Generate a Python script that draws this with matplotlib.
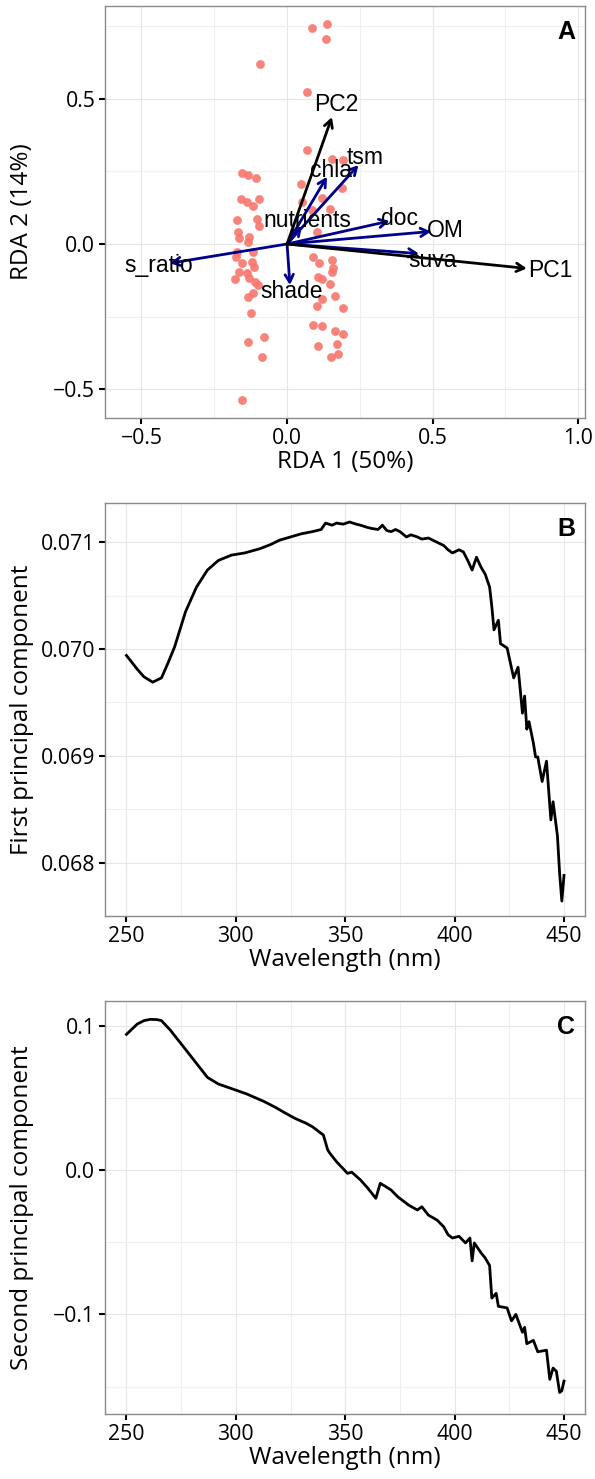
import matplotlib
matplotlib.use('Agg')
import matplotlib.pyplot as plt
from matplotlib.ticker import MultipleLocator

# panel A: site scores
site_x = [-0.154, -0.134, -0.106, -0.158, -0.137, -0.117, -0.096, -0.172, -0.103, -0.096,
          -0.168, -0.165, -0.130, -0.134, -0.117, -0.172, -0.175, -0.154, -0.120, -0.113,
          -0.165, -0.137, -0.178, -0.130, -0.110, -0.100, -0.117, -0.134, -0.124, -0.079,
          -0.134, -0.086, -0.154, -0.093,
          0.086, 0.137, 0.134, 0.069, 0.069, 0.154, 0.192, 0.189, 0.048, 0.051,
          0.120, 0.086, 0.148, 0.103, 0.089, 0.110, 0.154, 0.158, 0.154, 0.106,
          0.120, 0.148, 0.165, 0.120, 0.103, 0.192, 0.089, 0.120, 0.165, 0.192,
          0.106, 0.172, 0.175, 0.151]
site_y = [0.244, 0.237, 0.227, 0.155, 0.144, 0.131, 0.155, 0.082, 0.086, 0.062,
          0.041, 0.021, 0.024, 0.007, -0.027, -0.027, -0.045, -0.065, -0.062, -0.079,
          -0.096, -0.100, -0.120, -0.117, -0.131, -0.141, -0.168, -0.182, -0.237, -0.320,
          -0.337, -0.388, -0.536, 0.619,
          0.742, 0.756, 0.704, 0.522, 0.323, 0.292, 0.289, 0.192, 0.206, 0.144,
          0.158, 0.117, 0.120, 0.041, -0.045, -0.065, -0.055, -0.082, -0.096, -0.113,
          -0.120, -0.137, -0.179, -0.189, -0.213, -0.220, -0.278, -0.282, -0.299, -0.309,
          -0.351, -0.344, -0.378, -0.388]

# panel A: environmental vectors
env_names = ['s_ratio', 'shade', 'nutrients', 'chla', 'tsm', 'doc', 'OM', 'suva']
env_x = [-0.402, 0.010, 0.051, 0.137, 0.245, 0.352, 0.494, 0.453]
env_y = [-0.066, -0.141, 0.062, 0.231, 0.271, 0.079, 0.043, -0.033]
pc_names = ['PC1', 'PC2']
pc_x = [0.823, 0.154]
pc_y = [-0.084, 0.436]

# panel B: first principal component
wl_b = [250, 255, 258, 262, 266, 269, 272, 277, 282, 287, 292, 298, 304, 311, 316,
        320, 325, 330, 335, 339, 341, 344, 346, 349, 352, 355, 357, 360, 362, 365,
        367, 369, 371, 373, 375, 378, 380, 383, 385, 388, 391, 393, 395, 397, 399,
        402, 404, 406, 408, 410, 412, 414, 416, 417, 418, 420, 421, 424, 427, 429,
        430, 431, 432, 433, 434, 436, 437, 438, 440, 442, 444, 445, 447, 448, 449, 450]
pc1 = [0.06994, 0.06981, 0.06974, 0.06969, 0.06973, 0.06987, 0.07002, 0.07035, 0.07058, 0.07074,
       0.07083, 0.07088, 0.07090, 0.07094, 0.07098, 0.07102, 0.07105, 0.07108, 0.07110, 0.07112,
       0.07118, 0.07116, 0.07118, 0.07117, 0.07119, 0.07117, 0.07116, 0.07114, 0.07113, 0.07112,
       0.07116, 0.07111, 0.07110, 0.07112, 0.07110, 0.07105, 0.07107, 0.07105, 0.07103, 0.07104,
       0.07101, 0.07099, 0.07097, 0.07093, 0.07090, 0.07093, 0.07091, 0.07083, 0.07074, 0.07086,
       0.07077, 0.07070, 0.07058, 0.07040, 0.07018, 0.07027, 0.07005, 0.07001, 0.06973, 0.06983,
       0.06962, 0.06940, 0.06956, 0.06925, 0.06932, 0.06912, 0.06899, 0.06899, 0.06876, 0.06895,
       0.06840, 0.06857, 0.06825, 0.06790, 0.06764, 0.06788]

# panel C: second principal component
wl_c = [250, 255, 258, 261, 264, 266, 270, 276, 282, 287, 292, 299, 305, 313, 318,
        322, 327, 332, 335, 339, 340, 342, 343, 346, 349, 351, 353, 357, 360, 364,
        366, 368, 371, 374, 379, 383, 385, 388, 392, 395, 397, 399, 402, 404, 405,
        407, 408, 409, 412, 414, 416, 417, 419, 420, 424, 426, 428, 431, 432, 433,
        436, 438, 442, 443.5, 445, 446.5, 448, 449, 450]
pc2 = [0.0940, 0.1012, 0.1035, 0.1044, 0.1042, 0.1035, 0.0970, 0.0855, 0.0739, 0.0642,
       0.0596, 0.0559, 0.0527, 0.0474, 0.0435, 0.0400, 0.0358, 0.0325, 0.0300, 0.0254,
       0.0243, 0.0139, 0.0116, 0.0058, 0.0010, -0.0023, -0.0015, -0.0069, -0.0120, -0.0196,
       -0.0092, -0.0110, -0.0139, -0.0185, -0.0243, -0.0277, -0.0254, -0.0312, -0.0347, -0.0393,
       -0.0448, -0.0471, -0.0459, -0.0490, -0.0505, -0.0471, -0.0629, -0.0505, -0.0572, -0.0610,
       -0.0662, -0.0887, -0.0854, -0.0944, -0.0955, -0.1045, -0.1000, -0.1124, -0.1090, -0.1203,
       -0.1180, -0.1259, -0.1248, -0.1450, -0.1372, -0.1394, -0.1541, -0.1529, -0.1462]

tick_font = 'Open Sans'
label_font = 'Liberation Sans'


def style_axes(ax, letter):
    ax.set_facecolor('white')
    for s in ax.spines.values():
        s.set_color('#8a8a8a')
        s.set_linewidth(1.0)
    ax.grid(which='major', color='#e6e6e6', lw=0.8, zorder=0)
    ax.grid(which='minor', color='#efefef', lw=0.8, zorder=0)
    ax.set_axisbelow(True)
    ax.tick_params(which='major', length=4.5, width=1.5, color='black', labelsize=15.3,
                   labelcolor='black', pad=2.5)
    ax.tick_params(which='minor', length=0)
    for lab in ax.get_xticklabels() + ax.get_yticklabels():
        lab.set_fontfamily(tick_font)
    ax.yaxis.label.set_va('center')
    ax.yaxis.set_label_coords(-0.173, 0.5)
    ax.text(0.979, 0.966, letter, transform=ax.transAxes, ha='right', va='top',
            fontsize=18, fontweight='bold', fontfamily=label_font)


fig = plt.figure(figsize=(5.95, 14.79), dpi=100)
axA = fig.add_axes([0.1765, 0.71738, 0.8067, 0.27857])
axB = fig.add_axes([0.1765, 0.38066, 0.8067, 0.27924])
axC = fig.add_axes([0.1765, 0.04395, 0.8067, 0.27924])

# A
axA.scatter(site_x, site_y, s=40, color='#F8766D', alpha=0.9, lw=0, zorder=2)
arrow_style = '->,head_length=0.55,head_width=0.3'
for name, x, y in zip(env_names, env_x, env_y):
    axA.annotate('', xy=(x, y), xytext=(0, 0),
                 arrowprops=dict(arrowstyle=arrow_style, color='#00008B', lw=2.0,
                                 shrinkA=0, shrinkB=0), zorder=3)
for name, x, y in zip(pc_names, pc_x, pc_y):
    axA.annotate('', xy=(x, y), xytext=(0, 0),
                 arrowprops=dict(arrowstyle=arrow_style, color='black', lw=2.0,
                                 shrinkA=0, shrinkB=0), zorder=3)
nudge = {'nutrients': (0.015, 0.012), 'suva': (0.0, -0.02), 'shade': (0.004, -0.008)}
for name, x, y in zip(env_names + pc_names, env_x + pc_x, env_y + pc_y):
    dx, dy = nudge.get(name, (0, 0))
    axA.text(x * 1.1 + dx, y * 1.1 + dy, name, ha='center', va='center',
             fontsize=16.5, fontfamily=label_font, color='black', zorder=4)
axA.set_xlim(-0.625, 1.023)
axA.set_ylim(-0.598, 0.818)
axA.xaxis.set_minor_locator(MultipleLocator(0.25))
axA.yaxis.set_minor_locator(MultipleLocator(0.25))
axA.set_xticks([-0.5, 0.0, 0.5, 1.0])
axA.set_xticklabels(['\u22120.5', '0.0', '0.5', '1.0'])
axA.set_yticks([-0.5, 0.0, 0.5])
axA.set_yticklabels(['\u22120.5', '0.0', '0.5'])
axA.set_xlabel('RDA 1 (50%)', fontsize=17.5, fontfamily=tick_font, labelpad=1)
axA.set_ylabel('RDA 2 (14%)', fontsize=17.5, fontfamily=tick_font)
style_axes(axA, 'A')

# B
axB.plot(wl_b, pc1, color='black', lw=2.0, zorder=3)
axB.set_xlim(240.2, 459.6)
axB.set_ylim(0.0675, 0.071368)
axB.set_xticks([250, 300, 350, 400, 450])
axB.xaxis.set_minor_locator(MultipleLocator(25))
axB.set_yticks([0.068, 0.069, 0.070, 0.071])
axB.set_yticklabels(['0.068', '0.069', '0.070', '0.071'])
axB.yaxis.set_minor_locator(MultipleLocator(0.0005))
axB.set_xlabel('Wavelength (nm)', fontsize=17.5, fontfamily=tick_font, labelpad=1)
axB.set_ylabel('First principal component', fontsize=17.5, fontfamily=tick_font)
style_axes(axB, 'B')

# C
axC.plot(wl_c, pc2, color='black', lw=2.0, zorder=3)
axC.set_xlim(240.2, 459.6)
axC.set_ylim(-0.169, 0.1171)
axC.set_xticks([250, 300, 350, 400, 450])
axC.xaxis.set_minor_locator(MultipleLocator(25))
axC.set_yticks([-0.1, 0.0, 0.1])
axC.set_yticklabels(['\u22120.1', '0.0', '0.1'])
axC.yaxis.set_minor_locator(MultipleLocator(0.05))
axC.set_xlabel('Wavelength (nm)', fontsize=17.5, fontfamily=tick_font, labelpad=1)
axC.set_ylabel('Second principal component', fontsize=17.5, fontfamily=tick_font)
style_axes(axC, 'C')

fig.savefig('out.png', dpi=100, facecolor='white')
